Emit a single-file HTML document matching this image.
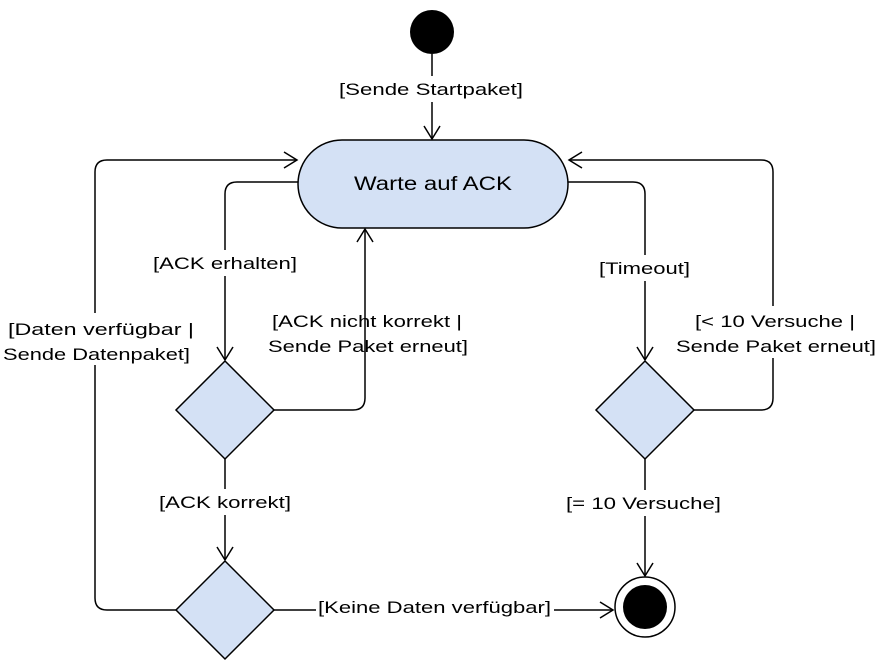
<!DOCTYPE html>
<html><head><meta charset="utf-8"><style>body{margin:0;background:#fff}svg{display:block}</style></head><body>
<svg width="878" height="662" viewBox="0 0 878 662" xmlns="http://www.w3.org/2000/svg" font-family="Liberation Sans, sans-serif">
<defs>
<marker id="a" markerWidth="16" markerHeight="18" refX="14" refY="9" orient="auto" markerUnits="userSpaceOnUse">
<path d="M1,1 L14,9 L1,17" fill="none" stroke="#000" stroke-width="1.5"/>
</marker>
</defs>
<g fill="none" stroke="#000" stroke-width="1.5">
<path d="M432,54 V139" marker-end="url(#a)"/>
<path d="M298,182 H237 Q225,182 225,194 V360" marker-end="url(#a)"/>
<path d="M274,410 H353 Q365,410 365,398 V229" marker-end="url(#a)"/>
<path d="M225,459 V560" marker-end="url(#a)"/>
<path d="M176,610 H107 Q95,610 95,598 V172 Q95,160 107,160 H297" marker-end="url(#a)"/>
<path d="M274,610 H613" marker-end="url(#a)"/>
<path d="M568,182 H633 Q645,182 645,194 V360" marker-end="url(#a)"/>
<path d="M694,410 H761 Q773,410 773,398 V172 Q773,160 761,160 H569" marker-end="url(#a)"/>
<path d="M645,459 V576" marker-end="url(#a)"/>
</g>
<circle cx="432" cy="32" r="22" fill="#000"/>
<rect x="298" y="140" width="270" height="88" rx="44" fill="#d4e1f5" stroke="#000" stroke-width="1.5"/>
<text x="354" y="190" font-size="19" textLength="158" lengthAdjust="spacingAndGlyphs">Warte auf ACK</text>
<g fill="#d4e1f5" stroke="#000" stroke-width="1.5">
<path d="M225,361 L274,410 L225,459 L176,410 Z"/>
<path d="M645,361 L694,410 L645,459 L596,410 Z"/>
<path d="M225,561 L274,610 L225,659 L176,610 Z"/>
</g>
<circle cx="645" cy="607" r="30" fill="#fff" stroke="#000" stroke-width="1.5"/>
<circle cx="645" cy="607" r="22" fill="#000"/>
<g font-size="17" fill="#000">
<rect x="336" y="76" width="192" height="26" fill="#fff"/>
<text x="339" y="95" textLength="184" lengthAdjust="spacingAndGlyphs">[Sende Startpaket]</text>
<rect x="150" y="250" width="150" height="26" fill="#fff"/>
<text x="153" y="269" textLength="144" lengthAdjust="spacingAndGlyphs">[ACK erhalten]</text>
<text x="272" y="327" textLength="190" lengthAdjust="spacingAndGlyphs">[ACK nicht korrekt |</text>
<text x="268" y="352" textLength="200" lengthAdjust="spacingAndGlyphs">Sende Paket erneut]</text>
<rect x="155" y="489" width="140" height="26" fill="#fff"/>
<text x="159" y="508" textLength="132" lengthAdjust="spacingAndGlyphs">[ACK korrekt]</text>
<rect x="1" y="313" width="196" height="52" fill="#fff"/>
<text x="8" y="335" textLength="186" lengthAdjust="spacingAndGlyphs">[Daten verfügbar |</text>
<text x="3" y="360" textLength="187" lengthAdjust="spacingAndGlyphs">Sende Datenpaket]</text>
<rect x="316" y="594" width="238" height="26" fill="#fff"/>
<text x="318" y="613" textLength="233" lengthAdjust="spacingAndGlyphs">[Keine Daten verfügbar]</text>
<rect x="596" y="255" width="98" height="26" fill="#fff"/>
<text x="599" y="274" textLength="91" lengthAdjust="spacingAndGlyphs">[Timeout]</text>
<rect x="674" y="306" width="204" height="52" fill="#fff"/>
<text x="695" y="327" textLength="160" lengthAdjust="spacingAndGlyphs">[&lt; 10 Versuche |</text>
<text x="676" y="352" textLength="200" lengthAdjust="spacingAndGlyphs">Sende Paket erneut]</text>
<rect x="562" y="490" width="164" height="26" fill="#fff"/>
<text x="566" y="509" textLength="155" lengthAdjust="spacingAndGlyphs">[= 10 Versuche]</text>
</g>
</svg>
</body></html>
